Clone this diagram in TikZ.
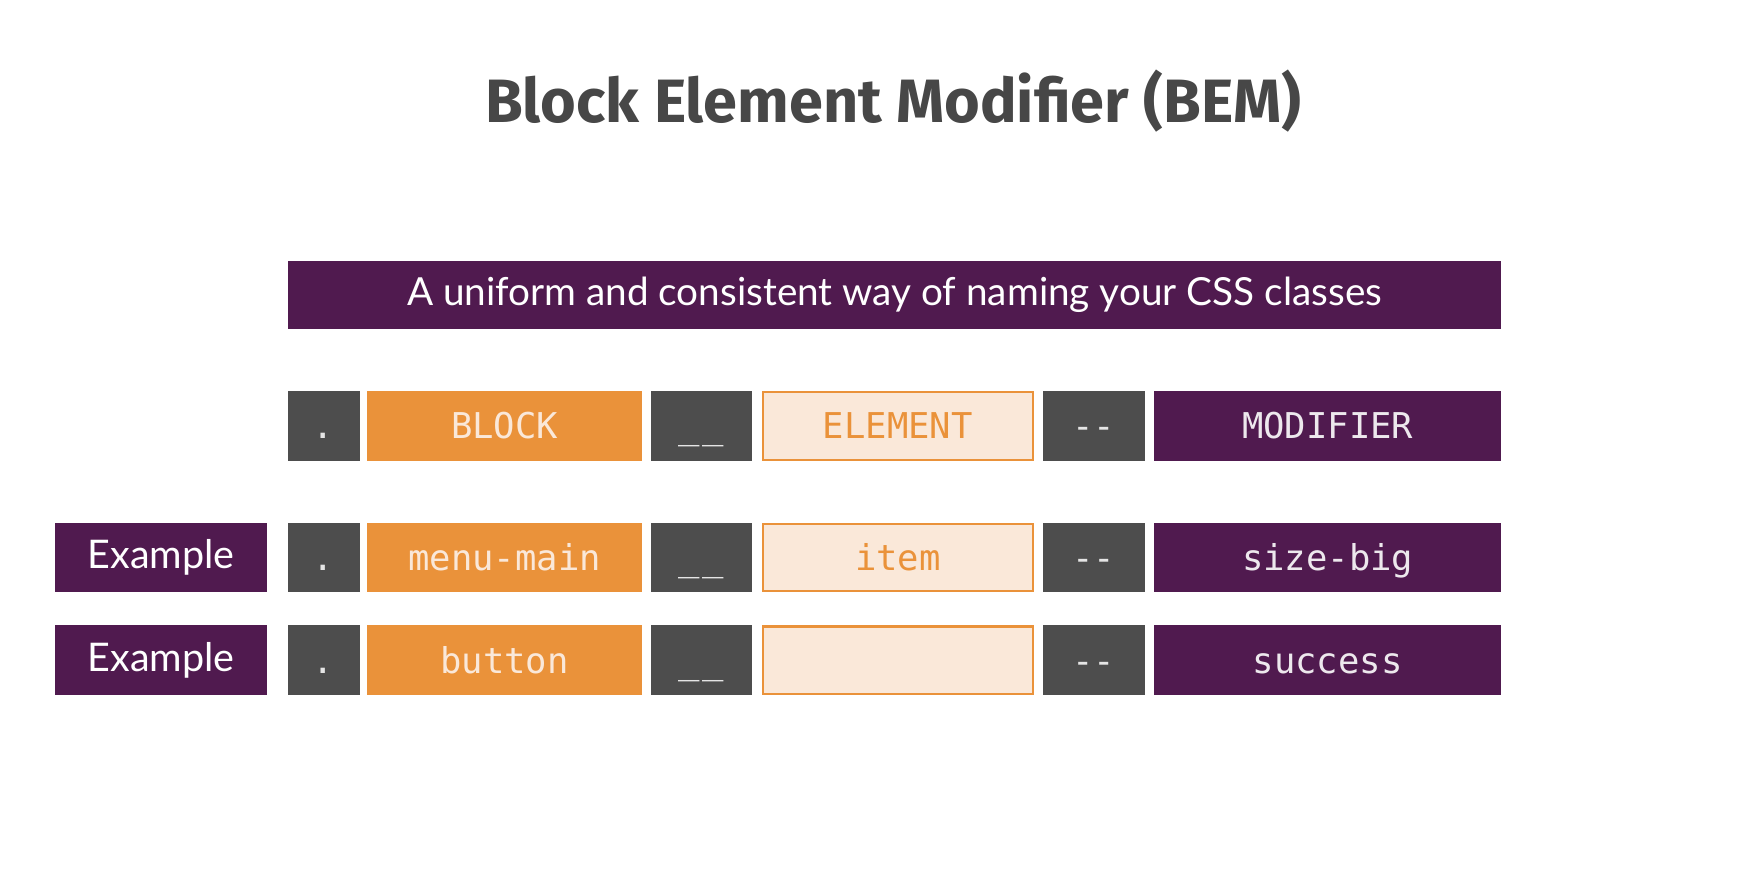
\documentclass[tikz,border=0pt]{standalone}
\usepackage{fontspec}
\setmainfont{Lato}
\setmonofont{DejaVu Sans Mono}
\newfontfamily\titlefont{Fira Sans}
\usepackage{xcolor}
\usepackage{tikz}
\usetikzlibrary{positioning}

\definecolor{bemPurple}{HTML}{501A4F}
\definecolor{bemGray}{HTML}{4D4D4D}
\definecolor{bemOrange}{HTML}{EA923A}
\definecolor{bemPeach}{HTML}{FAE8D9}
\definecolor{bemTitle}{HTML}{474747}

\newcommand{\dunder}{\_\kern1.5pt\_}

\tikzset{
  cell/.style={inner sep=0pt, outer sep=0pt, minimum height=1.24cm},
  code/.style={cell, font=\ttfamily\fontsize{18}{20}\selectfont, text height=13pt, text depth=0pt},
  sepbox/.style={code, fill=bemGray, text=black!10},
  blockbox/.style={code, fill=bemOrange, text=bemPeach, minimum width=4.88cm},
  elembox/.style={code, fill=bemPeach, draw=bemOrange, line width=1.1pt, text=bemOrange, minimum width=4.8cm, minimum height=1.2cm},
  modbox/.style={code, fill=bemPurple, text=white!90!bemPurple, minimum width=6.18cm},
  exbox/.style={cell, fill=bemPurple, text=white, minimum width=3.78cm, font=\fontsize{20}{24}\selectfont}
}

\begin{document}
\begin{tikzpicture}[x=0.02cm, y=-0.02cm]
\useasboundingbox[fill=white] (0,0) rectangle (1568,781.4);

% title and banner
\node[text=bemTitle, font=\titlefont\bfseries\fontsize{31}{36}\selectfont] (title) at (795,90) {Block Element Modifier (BEM)};
\node[cell, fill=bemPurple, text=white, minimum width=21.6cm, minimum height=1.22cm, font=\fontsize{19.6}{23}\selectfont] (banner) at (796,262.5) {A uniform and consistent way of naming your CSS classes};

% header row
\node[sepbox, minimum width=1.28cm] (dot0) at (288,379) {.};
\node[blockbox] (block0) at (449,379) {BLOCK};
\node[sepbox, minimum width=1.8cm] (under0) at (624,379) {\dunder};
\node[elembox] (elem0) at (799,379) {ELEMENT};
\node[sepbox, minimum width=1.82cm] (dash0) at (973.5,379) {-{}-};
\node[modbox] (mod0) at (1181.5,379) {MODIFIER};

% first example
\node[exbox] (ex1) at (143.5,496) {Example};
\node[sepbox, minimum width=1.28cm] (dot1) at (288,496) {.};
\node[blockbox] (block1) at (449,496) {menu-main};
\node[sepbox, minimum width=1.8cm] (under1) at (624,496) {\dunder};
\node[elembox] (elem1) at (799,496) {item};
\node[sepbox, minimum width=1.82cm] (dash1) at (973.5,496) {-{}-};
\node[modbox] (mod1) at (1181.5,496) {size-big};

% second example
\node[exbox] (ex2) at (143.5,587.5) {Example};
\node[sepbox, minimum width=1.28cm] (dot2) at (288,587.5) {.};
\node[blockbox] (block2) at (449,587.5) {button};
\node[sepbox, minimum width=1.8cm] (under2) at (624,587.5) {\dunder};
\node[elembox] (elem2) at (799,587.5) {};
\node[sepbox, minimum width=1.82cm] (dash2) at (973.5,587.5) {-{}-};
\node[modbox] (mod2) at (1181.5,587.5) {success};
\end{tikzpicture}
\end{document}
